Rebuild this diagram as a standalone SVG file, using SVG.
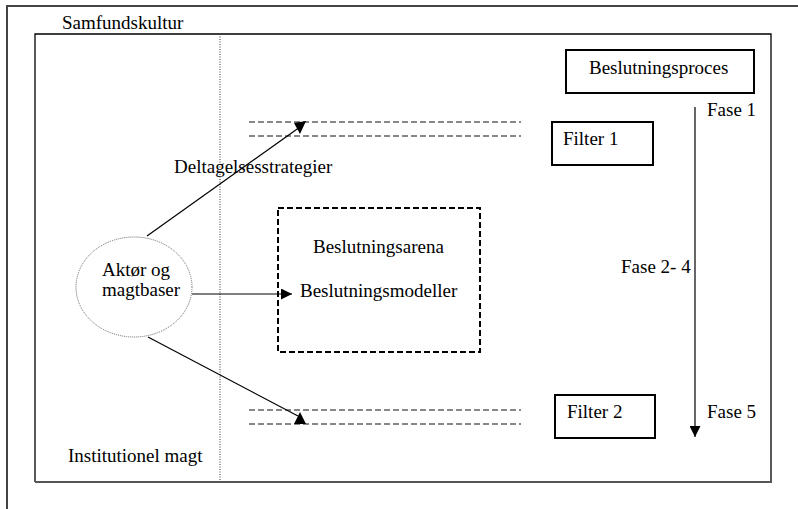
<svg xmlns="http://www.w3.org/2000/svg" width="798" height="509" viewBox="0 0 798 509">
  <style>
    text { font-family: 'Liberation Serif', 'Times New Roman', 'DejaVu Serif', serif; font-size: 19px; fill: #000; }
    .box { fill: #fff; stroke: #000; stroke-width: 2; }
    .dash { stroke: #111; stroke-width: 1; stroke-dasharray: 6 3; fill: none; }
    .conn { stroke: #000; stroke-width: 1.2; fill: none; }
  </style>
  <defs>
    <marker id="arrow" viewBox="0 0 10 10" refX="10" refY="5" markerWidth="11" markerHeight="11" markerUnits="userSpaceOnUse" orient="auto">
      <path d="M0,0 L10,5 L0,10 Z" fill="#000"/>
    </marker>
  </defs>
  <rect width="798" height="509" fill="#fff"/>

  <g font-family="Liberation Serif, Times New Roman, serif">
  <!-- outer frame: societal culture -->
  <g id="samfundskultur">
    <path d="M798,6 L7,6 L7,509" fill="none" stroke="#444" stroke-width="2"/>
    <text x="62" y="29">Samfundskultur</text>
  </g>

  <!-- inner frame: institutional power -->
  <g id="institutionel-magt">
    <path d="M35,482 L35,34 L771,34 L771,482" fill="none" stroke="#000" stroke-width="1.3"/>
    <line x1="35" y1="482" x2="772" y2="482" stroke="#555" stroke-width="2"/>
    <line x1="220" y1="34" x2="220" y2="481" stroke="#333" stroke-width="1" stroke-dasharray="1 1.5"/>
    <text x="68" y="462">Institutionel magt</text>
  </g>

  <!-- filter bands -->
  <g id="filterbaand">
    <line class="dash" x1="249" y1="122" x2="521" y2="122"/>
    <line class="dash" x1="249" y1="136" x2="521" y2="136"/>
    <line class="dash" x1="249" y1="410" x2="521" y2="410"/>
    <line class="dash" x1="249" y1="424" x2="521" y2="424"/>
  </g>

  <g id="aktoer">
    <ellipse cx="134" cy="287" rx="58" ry="50" fill="none" stroke="#666" stroke-width="1" stroke-dasharray="1 1"/>
    <text x="102" y="276">Aktør og</text>
    <text x="102" y="296">magtbaser</text>
  </g>

  <g id="arena">
    <rect x="278" y="208" width="202" height="144" fill="none" stroke="#000" stroke-width="2" stroke-dasharray="6 3"/>
    <text x="313" y="253">Beslutningsarena</text>
    <text x="300" y="297">Beslutningsmodeller</text>
  </g>

  <g id="beslutningsproces">
    <rect class="box" x="566" y="50" width="188" height="43"/>
    <text x="589" y="74">Beslutningsproces</text>
  </g>

  <g id="filter1">
    <rect class="box" x="552" y="122" width="101" height="43"/>
    <text x="563" y="145">Filter 1</text>
  </g>

  <g id="filter2">
    <rect class="box" x="555" y="395" width="100" height="43"/>
    <text x="567" y="418">Filter 2</text>
  </g>

  <g id="faser">
    <text x="707" y="116">Fase 1</text>
    <text x="621" y="273">Fase 2- 4</text>
    <text x="707" y="418">Fase 5</text>
  </g>

  <!-- connectors -->
  <g id="connectors">
    <line class="conn" x1="147" y1="236" x2="300" y2="127"/>
    <polygon points="294,123 306,121 300,134" fill="#000"/>
    <text x="174" y="173">Deltagelsesstrategier</text>
    <line class="conn" x1="192" y1="294" x2="292" y2="294" marker-end="url(#arrow)"/>
    <line class="conn" x1="148" y1="337" x2="298" y2="416"/>
    <polygon points="300,412 294,424 306,424" fill="#000"/>
    <line class="conn" x1="695" y1="107" x2="695" y2="437" marker-end="url(#arrow)"/>
  </g>
  </g>
</svg>
